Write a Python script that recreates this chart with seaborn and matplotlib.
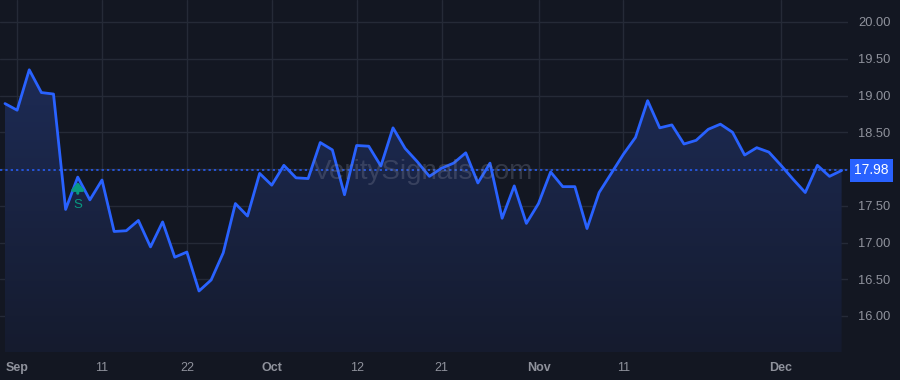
import numpy as np
import pandas as pd
import matplotlib
matplotlib.use("Agg")
import matplotlib.pyplot as plt
import seaborn as sns
from matplotlib.colors import LinearSegmentedColormap

# ---- data ----
values = [18.89, 18.80, 19.35, 19.04, 19.02, 17.45, 17.89, 17.58, 17.85, 17.15,
          17.16, 17.30, 16.94, 17.28, 16.80, 16.87, 16.34, 16.49, 16.86, 17.53,
          17.36, 17.94, 17.78, 18.05, 17.88, 17.87, 18.36, 18.26, 17.65, 18.32,
          18.31, 18.04, 18.56, 18.28, 18.10, 17.90, 18.01, 18.08, 18.22, 17.81,
          18.08, 17.33, 17.77, 17.26, 17.53, 17.96, 17.76, 17.76, 17.19, 17.68,
          17.94, 18.20, 18.43, 18.93, 18.56, 18.60, 18.34, 18.39, 18.54, 18.61,
          18.50, 18.19, 18.29, 18.23, 18.05, 17.86, 17.68, 18.05, 17.90, 17.98]
tick_pos = [1, 8, 15, 22, 29, 36, 44, 51, 64]
tick_labels = ["Sep", "11", "22", "Oct", "12", "21", "Nov", "11", "Dec"]
month_labels = ["Sep", "Oct", "Nov", "Dec"]
y_ticks = [16.0, 16.5, 17.0, 17.5, 18.0, 18.5, 19.0, 19.5, 20.0]
y_tick_labels = ["16.00", "16.50", "17.00", "17.50", "", "18.50", "19.00", "19.50", "20.00"]
last_value = 17.98
signal_index = 6
signal_label = "S"
watermark = "VeritySignals.com"

df = pd.DataFrame({"i": np.arange(len(values)), "v": values})

BG = "#131722"
GRID = "#252a37"
LINE = "#2962ff"
TXT = "#8f929c"
GREEN = "#089981"

sns.set_theme(style="dark", rc={
    "axes.facecolor": BG, "figure.facecolor": BG,
    "axes.edgecolor": BG, "grid.color": GRID,
})
plt.rcParams["font.family"] = ["Liberation Sans", "DejaVu Sans"]

fig = plt.figure(figsize=(9, 3.8), dpi=100)
ax = fig.add_axes([0, 28 / 380, 848 / 900, 352 / 380])
ax.set_facecolor(BG)

xmin, xmax = -5 / 12.125, (848 - 5) / 12.125
ymax = 20 + 22 / 73.5
ymin = 20 - (352 - 22) / 73.5
ax.set_xlim(xmin, xmax)
ax.set_ylim(ymin, ymax)

# gradient fill under line
poly = ax.fill_between(df["i"], df["v"], ymin, color="none", lw=0)
cmap = LinearSegmentedColormap.from_list("g", ["#151b2e", "#1d2b55"])
grad = np.linspace(0, 1, 256).reshape(-1, 1)
im = ax.imshow(grad, cmap=cmap, aspect="auto", origin="lower",
               extent=[0, len(values) - 1, ymin, max(values)], zorder=1)
path = poly.get_paths()[0]
im.set_clip_path(path, transform=ax.transData)

sns.lineplot(data=df, x="i", y="v", ax=ax, color=LINE, lw=2, zorder=3)

# last value dotted line
ax.axhline(last_value, color=LINE, lw=1.1, ls=(0, (1.5, 2)), zorder=2)

# grid
ax.set_yticks(y_ticks)
ax.set_xticks(tick_pos)
ax.grid(True, color=GRID, lw=1, zorder=0)
ax.set_axisbelow(True)
ax.yaxis.tick_right()
ax.tick_params(axis="y", length=0, pad=7.5, labelsize=9.3, labelcolor=TXT)
ax.tick_params(axis="x", length=0, pad=7, labelsize=9, labelcolor=TXT)
ax.set_yticklabels(y_tick_labels)
ax.set_xticklabels(tick_labels)
for lab in ax.get_xticklabels():
    if lab.get_text() in month_labels:
        lab.set_fontweight("bold")
for lab in ax.get_yticklabels():
    lab.set_ha("left")
ax.set_xlabel("")
ax.set_ylabel("")
for s in ax.spines.values():
    s.set_visible(False)

# last value label box
ax.annotate(f"{last_value:.2f}", xy=(1.0, last_value),
            xycoords=("axes fraction", "data"), xytext=(4.5, 0),
            textcoords="offset points", ha="left", va="center",
            fontsize=10, color="white",
            bbox=dict(boxstyle="square,pad=0.3", fc=LINE, ec="none"),
            annotation_clip=False, zorder=5)

# watermark
ax.text(423 / 848, 1 - 172 / 352, watermark, transform=ax.transAxes,
        ha="center", va="center", fontsize=20, color="#80859a", alpha=0.3,
        zorder=4)

# signal marker
sv = values[signal_index]
ax.annotate("", xy=(signal_index, sv - 0.07), xytext=(signal_index, sv - 0.22),
            arrowprops=dict(arrowstyle="-|>,head_width=0.3,head_length=0.35",
                            color=GREEN, lw=2.2, shrinkA=0, shrinkB=0), zorder=5)
ax.text(signal_index, sv - 0.30, signal_label, ha="center", va="top",
        fontsize=9.5, color=GREEN, zorder=5)

fig.savefig("out.png", dpi=100, facecolor=BG)
